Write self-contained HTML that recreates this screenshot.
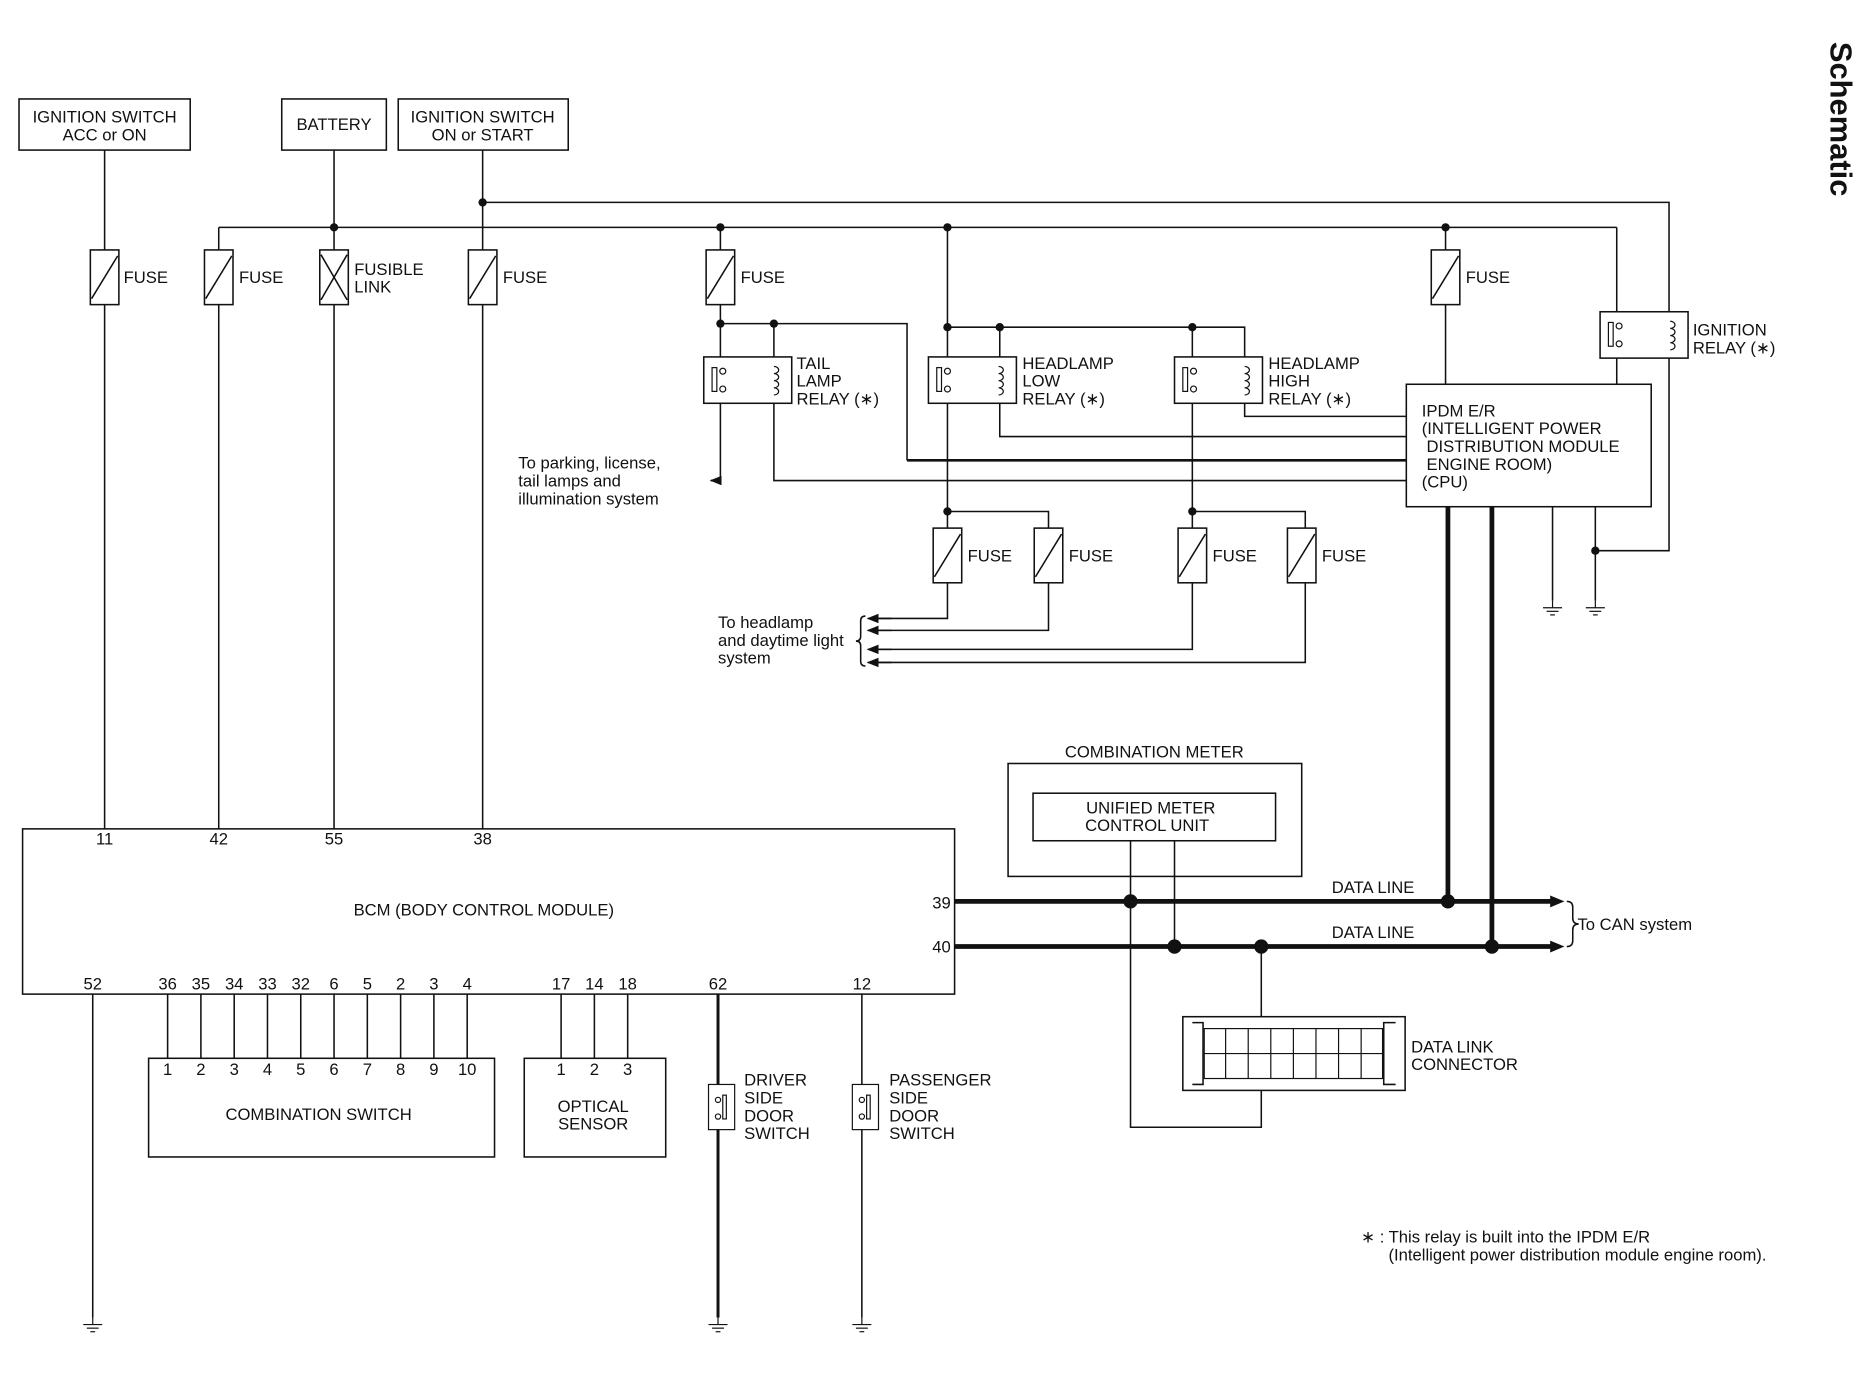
<!DOCTYPE html>
<html><head><meta charset="utf-8"><style>
html,body{margin:0;padding:0;background:#fff;}
svg{display:block;}
text{font-family:"Liberation Sans",sans-serif;font-size:14px;fill:#111;}
</style></head><body>
<svg width="1864" height="1376" viewBox="0 0 1568 1157" xmlns="http://www.w3.org/2000/svg">
<defs>
<g id="fuse"><rect x="-12" y="-23" width="24" height="46" fill="#fff" stroke="#111" stroke-width="1.3"/><line x1="-11" y1="18" x2="11" y2="-18" stroke="#111" stroke-width="1.3"/></g>
<g id="gnd"><line x1="0" y1="0" x2="0" y2="6" stroke="#111"/><line x1="-8" y1="6" x2="8" y2="6" stroke="#111"/><line x1="-5" y1="9" x2="5" y2="9" stroke="#111"/><line x1="-2" y1="12" x2="2" y2="12" stroke="#111"/></g>
<g id="relay"><rect x="0" y="0" width="74" height="39" fill="#fff" stroke="#111" stroke-width="1.3"/>
<rect x="7" y="9" width="4" height="20" fill="none" stroke="#111"/><circle cx="16" cy="12" r="2.5" fill="none" stroke="#111"/><circle cx="16" cy="27" r="2.5" fill="none" stroke="#111"/>
<path d="M59 8 a4 3 0 1 1 0 6 a4 3 0 1 1 0 6 a4 3 0 1 1 0 6 a4 3 0 1 1 0 6" fill="none" stroke="#111"/></g>
<marker id="ar" markerWidth="10" markerHeight="8" refX="9" refY="4" orient="auto" markerUnits="userSpaceOnUse"><path d="M0 0 L10 4 L0 8 Z" fill="#111"/></marker>
</defs>
<g stroke="#111" stroke-width="1.3" fill="none">
<rect x="16" y="83" width="144" height="43"/><rect x="237" y="83" width="88" height="43"/><rect x="335" y="83" width="143" height="43"/>
<path d="M88 126V697M281 126V191M406 126V697M406 170H1404V463H1342M184 191H1360M184 191V697M281 191V697"/>
<path d="M606 191V404H598M606 272H763V387M651 272V404H1183M797 191V430M841 275V300M797 275H1047V300M1003 275V430M1360 191V323M1216 191V323"/>
<path d="M841 339V367H1183M1047 339V350H1183"/>
<path d="M797 430H882V530H736M797 430V520H736M1003 430H1098V557H736M1003 430V546H736"/>
<path d="M1306 426V505M1342 426V505"/>
<rect x="1183" y="323" width="206" height="103"/>
<rect x="848" y="642" width="247" height="95"/><rect x="869" y="667" width="204" height="40"/>
<rect x="19" y="697" width="784" height="139"/>
<path d="M951 707V948H1061V917M988 707V796M1061 796V855"/>
<path d="M78 836V1108M725 836V1108"/>
<path d="M141 836V890M169 836V890M197 836V890M225 836V890M253 836V890M281 836V890M309 836V890M337 836V890M365 836V890M393 836V890M472 836V890M500 836V890M528 836V890"/>
<rect x="125" y="890" width="291" height="83"/><rect x="441" y="890" width="119" height="83"/>
<rect x="995" y="855" width="187" height="62"/><path d="M1003 860 L1012 860 L1012 912 L1003 912 M1174 860 L1164 860 L1164 912 L1174 912"/>
<path d="M1318 758 q5 0 5 5 V772 q0 5 5 5 q-5 0 -5 5 V791 q0 5 -5 5"/>
<path d="M728 518 q-4 0 -4 4 V535 q0 4 -4 4 q4 0 4 4 V556 q0 4 4 4"/>
</g>
<path d="M763 387H1183" stroke="#111" stroke-width="2.2"/>
<path d="M604 836V1108" stroke="#111" stroke-width="2.5"/>
<g stroke="#111" stroke-width="1.3" fill="none" marker-end="url(#ar)">
<path d="M606 404H598"/><path d="M750 520H730"/><path d="M750 530H730"/><path d="M750 546H730"/><path d="M750 557H730"/>
</g>
<g fill="#fff" stroke="#111" stroke-width="1">
<rect x="1013" y="865" width="150" height="42"/>
</g>
<g stroke="#111" stroke-width="1"><path d="M1013 886H1163M1031 865V907M1050 865V907M1069 865V907M1088 865V907M1107 865V907M1126 865V907M1145 865V907"/></g>
<g stroke="#111" stroke-width="4" fill="none">
<path d="M1218 426V758M1255 426V796"/>
<path d="M803 758H1306M803 796H1306"/>
</g>
<path d="M1316 758l-12 -5v10z M1316 796l-12 -5v10z" fill="#111"/>
<use href="#fuse" x="88" y="233"/><use href="#fuse" x="184" y="233"/><use href="#fuse" x="406" y="233"/><use href="#fuse" x="606" y="233"/><use href="#fuse" x="1216" y="233"/>
<g><rect x="269" y="210" width="24" height="46" fill="#fff" stroke="#111" stroke-width="1.3"/><path d="M270 214L292 252M292 214L270 252" stroke="#111" stroke-width="1.3"/></g>
<use href="#fuse" x="797" y="467"/><use href="#fuse" x="882" y="467"/><use href="#fuse" x="1003" y="467"/><use href="#fuse" x="1095" y="467"/>
<use href="#relay" x="592" y="300"/><use href="#relay" x="781" y="300"/><use href="#relay" x="988" y="300"/><use href="#relay" x="1346" y="262"/>
<g fill="#fff" stroke="#111"><rect x="596" y="912" width="22" height="38"/><rect x="717" y="912" width="22" height="38"/></g>
<g fill="none" stroke="#111"><rect x="608" y="921" width="3" height="20"/><circle cx="604" cy="925" r="2.2"/><circle cx="604" cy="939" r="2.2"/><rect x="729" y="921" width="3" height="20"/><circle cx="725" cy="925" r="2.2"/><circle cx="725" cy="939" r="2.2"/></g>
<g fill="#111">
<circle cx="406" cy="170" r="3.5"/><circle cx="281" cy="191" r="3.5"/><circle cx="606" cy="191" r="3.5"/><circle cx="797" cy="191" r="3.5"/><circle cx="1216" cy="191" r="3.5"/>
<circle cx="606" cy="272" r="3.5"/><circle cx="651" cy="272" r="3.5"/><circle cx="797" cy="275" r="3.5"/><circle cx="841" cy="275" r="3.5"/><circle cx="1003" cy="275" r="3.5"/>
<circle cx="797" cy="430" r="3.5"/><circle cx="1003" cy="430" r="3.5"/><circle cx="1342" cy="463" r="3.5"/>
<circle cx="951" cy="758" r="6"/><circle cx="1218" cy="758" r="6"/><circle cx="988" cy="796" r="6"/><circle cx="1061" cy="796" r="6"/><circle cx="1255" cy="796" r="6"/>
</g>
<use href="#gnd" x="1306" y="505"/><use href="#gnd" x="1342" y="505"/><use href="#gnd" x="78" y="1108"/><use href="#gnd" x="604" y="1108"/><use href="#gnd" x="725" y="1108"/>
<g text-anchor="middle">
<text x="88" y="103">IGNITION SWITCH</text><text x="88" y="118">ACC or ON</text>
<text x="281" y="109">BATTERY</text>
<text x="406" y="103">IGNITION SWITCH</text><text x="406" y="118">ON or START</text>
<text x="88" y="710">11</text><text x="184" y="710">42</text><text x="281" y="710">55</text><text x="406" y="710">38</text>
<text x="407" y="770">BCM (BODY CONTROL MODULE)</text>
<text x="78" y="832">52</text><text x="141" y="832">36</text><text x="169" y="832">35</text><text x="197" y="832">34</text><text x="225" y="832">33</text><text x="253" y="832">32</text><text x="281" y="832">6</text><text x="309" y="832">5</text><text x="337" y="832">2</text><text x="365" y="832">3</text><text x="393" y="832">4</text>
<text x="472" y="832">17</text><text x="500" y="832">14</text><text x="528" y="832">18</text><text x="604" y="832">62</text><text x="725" y="832">12</text>
<text x="141" y="904">1</text><text x="169" y="904">2</text><text x="197" y="904">3</text><text x="225" y="904">4</text><text x="253" y="904">5</text><text x="281" y="904">6</text><text x="309" y="904">7</text><text x="337" y="904">8</text><text x="365" y="904">9</text><text x="393" y="904">10</text>
<text x="472" y="904">1</text><text x="500" y="904">2</text><text x="528" y="904">3</text>
<text x="268" y="942">COMBINATION SWITCH</text>
<text x="499" y="935">OPTICAL</text><text x="499" y="950">SENSOR</text>
<text x="971" y="637">COMBINATION METER</text>
<text x="968" y="684">UNIFIED METER</text><text x="965" y="699">CONTROL UNIT</text>
<text x="1155" y="751">DATA LINE</text><text x="1155" y="789">DATA LINE</text>
</g>
<text x="792" y="764" text-anchor="middle">39</text><text x="792" y="801" text-anchor="middle">40</text>
<text x="104" y="238">FUSE</text><text x="201" y="238">FUSE</text><text x="298" y="231">FUSIBLE</text><text x="298" y="246">LINK</text><text x="423" y="238">FUSE</text><text x="623" y="238">FUSE</text><text x="1233" y="238">FUSE</text>
<text x="814" y="472">FUSE</text><text x="899" y="472">FUSE</text><text x="1020" y="472">FUSE</text><text x="1112" y="472">FUSE</text>
<text x="670" y="310">TAIL</text><text x="670" y="325">LAMP</text><text x="670" y="340">RELAY (∗)</text>
<text x="860" y="310">HEADLAMP</text><text x="860" y="325">LOW</text><text x="860" y="340">RELAY (∗)</text>
<text x="1067" y="310">HEADLAMP</text><text x="1067" y="325">HIGH</text><text x="1067" y="340">RELAY (∗)</text>
<text x="1424" y="282">IGNITION</text><text x="1424" y="297">RELAY (∗)</text>
<text x="1196" y="350">IPDM E/R</text><text x="1196" y="365">(INTELLIGENT POWER</text><text x="1200" y="380">DISTRIBUTION MODULE</text><text x="1200" y="395">ENGINE ROOM)</text><text x="1196" y="410">(CPU)</text>
<text x="436" y="394">To parking, license,</text><text x="436" y="409">tail lamps and</text><text x="436" y="424">illumination system</text>
<text x="604" y="528">To headlamp</text><text x="604" y="543">and daytime light</text><text x="604" y="558">system</text>
<text x="1327" y="782">To CAN system</text>
<text x="1187" y="885">DATA LINK</text><text x="1187" y="900">CONNECTOR</text>
<text x="626" y="913">DRIVER</text><text x="626" y="928">SIDE</text><text x="626" y="943">DOOR</text><text x="626" y="958">SWITCH</text>
<text x="748" y="913">PASSENGER</text><text x="748" y="928">SIDE</text><text x="748" y="943">DOOR</text><text x="748" y="958">SWITCH</text>
<text x="1145" y="1045">∗ : This relay is built into the IPDM E/R</text><text x="1168" y="1060">(Intelligent power distribution module engine room).</text>
<text x="1540" y="100" transform="rotate(90 1540 100)" text-anchor="middle" style="font-size:26px;font-weight:bold">Schematic</text>
</svg>
</body></html>
